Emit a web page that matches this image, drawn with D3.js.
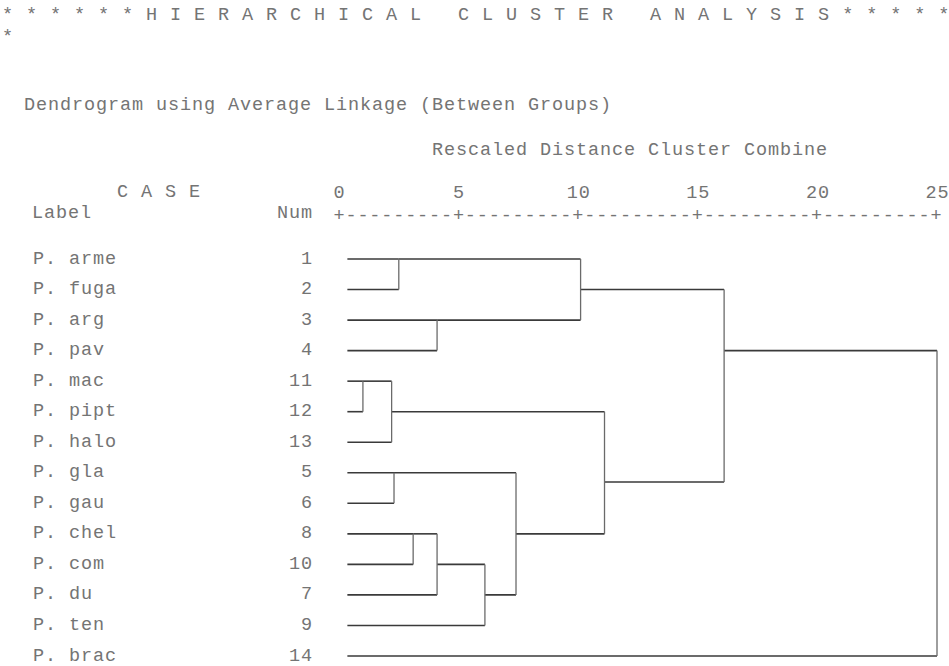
<!DOCTYPE html>
<html>
<head>
<meta charset="utf-8">
<script src="https://cdn.jsdelivr.net/npm/d3@7"></script>
<style>
  body { margin: 0; background: #fff; }
  text {
    font-family: "Liberation Mono", "Courier New", monospace;
    font-size: 18.5px;
    letter-spacing: 0.9px;
    fill: #747474;
    white-space: pre;
  }
</style>
</head>
<body>
<svg id="chart" width="949" height="666"></svg>
<script>
// Cases in dendrogram order
const caseLabels = ["P. arme", "P. fuga", "P. arg", "P. pav", "P. mac", "P. pipt", "P. halo",
                    "P. gla", "P. gau", "P. chel", "P. com", "P. du", "P. ten", "P. brac"];
const caseNums = [1, 2, 3, 4, 11, 12, 13, 5, 6, 8, 10, 7, 9, 14];

// Agglomeration steps: leaves are 0..13, step k creates cluster 14 + k
const mergeLeft  = [4, 14, 7, 0, 9, 2, 18, 20, 16, 17, 15, 23, 25];
const mergeRight = [5,  6, 8, 1, 10, 3, 11, 12, 21, 19, 22, 24, 13];
// Rescaled distance at which each step joins
const mergeDist  = [1.0, 2.2, 2.3, 2.5, 3.1, 4.1, 4.1, 6.1, 7.4, 10.1, 11.1, 16.1, 25];
// Row (in case units) where the joined cluster's line continues
const mergeRow   = [4, 5, 7, 0, 9, 2, 10, 11, 9, 1, 7.3, 3, null];
// Leaf lines begin just right of zero
const leafStart = 0.35;

const axisTicks = [0, 5, 10, 15, 20, 25];
const titleText = "* * * * * * H I E R A R C H I C A L   C L U S T E R   A N A L Y S I S * * * * *";
const titleWrap = "*";
const subtitleText = "Dendrogram using Average Linkage (Between Groups)";
const axisTitle = "Rescaled Distance Cluster Combine";

const svg = d3.select("#chart");
const charW = 12;

const x = d3.scaleLinear().domain([0, 25]).range([339, 937]);
const y = d3.scaleLinear().domain([0, caseLabels.length - 1]).range([259, 656]);

function label(txt, px, py, anchor) {
  return svg.append("text")
    .attr("x", px).attr("y", py)
    .attr("xml:space", "preserve")
    .attr("text-anchor", anchor || "start")
    .attr("dominant-baseline", "central")
    .text(txt);
}

// Header text
label(titleText, 2, 15);
label(titleWrap, 2, 37);
label(subtitleText, 24, 105);
label(axisTitle, 432, 150);
label("C A S E", 117, 192);
label("Label", 32, 213);
label("Num", 313, 213, "end");

// Distance axis: tick numbers above a "+----+" rule
const axisG = svg.append("g");
axisG.selectAll("text.tick").data(axisTicks).join("text")
  .attr("class", "tick")
  .attr("x", d => x(d) + 0.5)
  .attr("y", 193)
  .attr("text-anchor", "middle")
  .attr("dominant-baseline", "central")
  .text(d => d);
const step = axisTicks[1] - axisTicks[0];
const dashes = "-".repeat(Math.round((x(step) - x(0)) / charW) - 1);
const rule = "+" + axisTicks.slice(1).map(() => dashes + "+").join("");
axisG.append("text")
  .attr("x", x(0) - charW / 2 + 0.5)
  .attr("y", 216)
  .attr("dominant-baseline", "central")
  .attr("textLength", x(25) - x(0) + charW - 1)
  .attr("lengthAdjust", "spacing")
  .text(rule);

// Case labels and numbers
svg.append("g").selectAll("text").data(caseLabels).join("text")
  .attr("x", 33).attr("y", (d, i) => y(i))
  .attr("dominant-baseline", "central").text(d => d);
svg.append("g").selectAll("text").data(caseNums).join("text")
  .attr("x", 313).attr("y", (d, i) => y(i))
  .attr("text-anchor", "end").attr("dominant-baseline", "central").text(d => d);

// Node positions: leaves first, then each merge in order
const nodeRow = caseLabels.map((d, i) => i).concat(mergeRow);
const nodeDist = caseLabels.map(() => leafStart).concat(mergeDist);

const hLines = [];
const vLines = [];
mergeDist.forEach((d, k) => {
  const a = mergeLeft[k], b = mergeRight[k];
  [a, b].forEach(c => hLines.push({ x1: nodeDist[c], x2: d, row: nodeRow[c] }));
  vLines.push({ dist: d, r1: nodeRow[a], r2: nodeRow[b] });
});

const tree = svg.append("g");
tree.selectAll("line.h").data(hLines).join("line")
  .attr("class", "h")
  .attr("x1", d => x(d.x1)).attr("x2", d => x(d.x2))
  .attr("y1", d => y(d.row)).attr("y2", d => y(d.row))
  .attr("stroke", "#3a3a3a").attr("stroke-width", 1.6);
tree.selectAll("line.v").data(vLines).join("line")
  .attr("class", "v")
  .attr("x1", d => x(d.dist)).attr("x2", d => x(d.dist))
  .attr("y1", d => y(d.r1)).attr("y2", d => y(d.r2))
  .attr("stroke", "#6a6a6a").attr("stroke-width", 1.3);
</script>
</body>
</html>
